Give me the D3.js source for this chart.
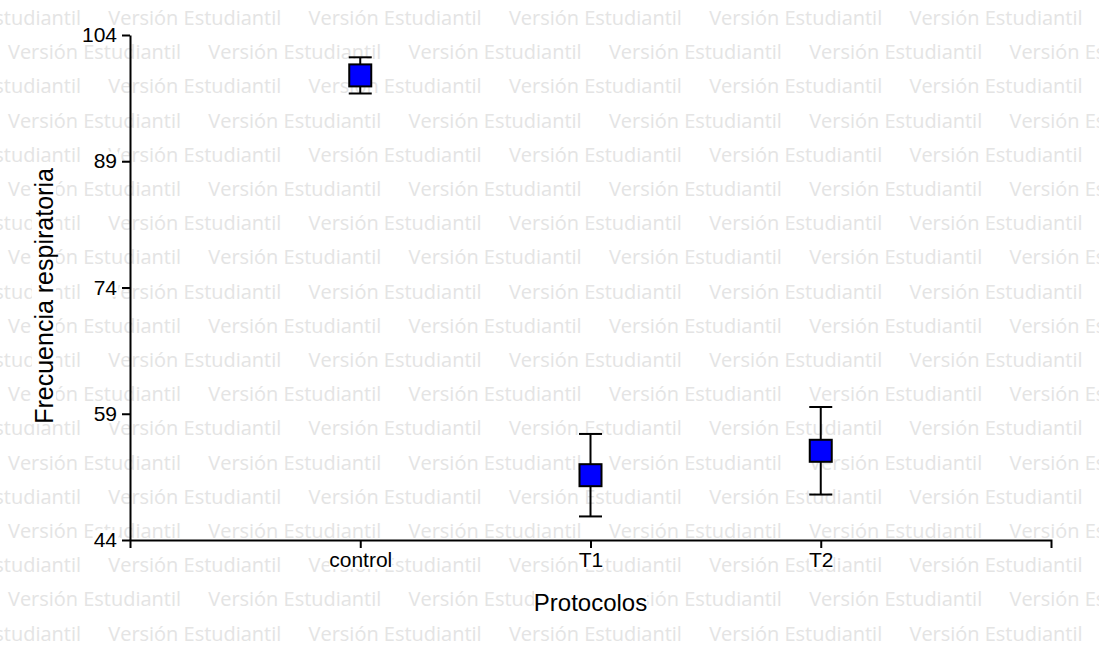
<!DOCTYPE html>
<html>
<head>
<meta charset="utf-8">
<script src="https://cdn.jsdelivr.net/npm/d3@7"></script>
<style>
  html, body { margin: 0; padding: 0; background: #fff; }
  svg { display: block; }
</style>
</head>
<body>
<div id="chart"></div>
<script>
'use strict';

// data (mean +/- error)
var categories = ["control", "T1", "T2"];
var means = [99.2, 51.7, 54.6];
var errors = [2.15, 4.9, 5.2];
var yTicks = [44, 59, 74, 89, 104];
var watermarkText = "Versión Estudiantil";

var W = 1099, H = 645;
var svg = d3.select("#chart").append("svg")
    .attr("width", W)
    .attr("height", H);

svg.append("rect").attr("width", W).attr("height", H).attr("fill", "#fff");

// student-version watermark, rows shifted every other line
var wm = svg.append("g").attr("class", "watermark");
for (var r = 0; r < 20; r++) {
    var startX = (r % 2 === 0) ? -92 : 8;
    for (var c = 0; c < 7; c++) {
        wm.append("text")
            .attr("x", startX + c * 200.3)
            .attr("y", 25 + r * 34.2)
            .attr("font-family", "'Open Sans', 'Noto Sans', sans-serif")
            .attr("font-size", 19.5)
            .attr("textLength", 173)
            .attr("lengthAdjust", "spacingAndGlyphs")
            .attr("fill", "#e4e4e4")
            .text(watermarkText);
    }
}

var pLeft = 130, pRight = 1051, pTop = 35, pBottom = 540;

var x = d3.scalePoint().domain(categories).range([pLeft, pRight]).padding(1);
var y = d3.scaleLinear().domain([44, 104]).range([pBottom, pTop]);

var font = "'Liberation Sans', Arial, sans-serif";

// puts a white box behind a text so the watermark does not show through it
function boxBehind(sel, pad) {
    sel.each(function() {
        var b = this.getBBox();
        var rect = document.createElementNS("http://www.w3.org/2000/svg", "rect");
        this.parentNode.insertBefore(rect, this);
        d3.select(rect)
            .attr("x", b.x - pad).attr("y", b.y + 2)
            .attr("width", b.width + 2 * pad).attr("height", b.height - 4)
            .attr("fill", "#fff");
    });
}

// y axis
var yAxis = svg.append("g")
    .attr("transform", "translate(" + pLeft + ",0)")
    .call(d3.axisLeft(y).tickValues(yTicks).tickSize(8).tickSizeOuter(0).tickPadding(5));
yAxis.selectAll("text").attr("font-family", font).attr("font-size", 21).attr("fill", "#000");
boxBehind(yAxis.selectAll("text"), 1);

// x axis
var xAxis = svg.append("g")
    .attr("transform", "translate(0," + pBottom + ")")
    .call(d3.axisBottom(x).tickSize(8).tickSizeOuter(8).tickPadding(0));
xAxis.selectAll("text").attr("font-family", font).attr("font-size", 21).attr("fill", "#000").attr("dy", "0.9em");
boxBehind(xAxis.selectAll("text"), 0);

svg.selectAll(".domain, .tick line").attr("stroke", "#000").attr("stroke-width", 2);

// axis titles
var xt = svg.append("g");
xt.append("text")
    .attr("x", x("T1"))
    .attr("y", 611)
    .attr("text-anchor", "middle")
    .attr("font-family", font)
    .attr("font-size", 24)
    .text("Protocolos");
boxBehind(xt.selectAll("text"), 0);

var yt = svg.append("g");
yt.append("text")
    .attr("transform", "translate(53,296) rotate(-90)")
    .attr("text-anchor", "middle")
    .attr("font-family", font)
    .attr("font-size", 25)
    .text("Frecuencia respiratoria");
var ytb = yt.node().getBBox();
yt.insert("rect", "text")
    .attr("x", ytb.x + 2).attr("y", ytb.y)
    .attr("width", ytb.width - 4).attr("height", ytb.height)
    .attr("fill", "#fff");

// error bars
var capW = 23, sq = 22;
var bars = svg.append("g").selectAll("g")
    .data(categories)
    .enter().append("g");

bars.append("line")
    .attr("x1", function(d) { return x(d); })
    .attr("x2", function(d) { return x(d); })
    .attr("y1", function(d, i) { return y(means[i] + errors[i]); })
    .attr("y2", function(d, i) { return y(means[i] - errors[i]); })
    .attr("stroke", "#000").attr("stroke-width", 2);
bars.append("line")
    .attr("x1", function(d) { return x(d) - capW / 2; })
    .attr("x2", function(d) { return x(d) + capW / 2; })
    .attr("y1", function(d, i) { return y(means[i] + errors[i]); })
    .attr("y2", function(d, i) { return y(means[i] + errors[i]); })
    .attr("stroke", "#000").attr("stroke-width", 2);
bars.append("line")
    .attr("x1", function(d) { return x(d) - capW / 2; })
    .attr("x2", function(d) { return x(d) + capW / 2; })
    .attr("y1", function(d, i) { return y(means[i] - errors[i]); })
    .attr("y2", function(d, i) { return y(means[i] - errors[i]); })
    .attr("stroke", "#000").attr("stroke-width", 2);

// square markers
bars.append("rect")
    .attr("x", function(d) { return x(d) - sq / 2; })
    .attr("y", function(d, i) { return y(means[i]) - sq / 2; })
    .attr("width", sq)
    .attr("height", sq)
    .attr("fill", "#0000ff")
    .attr("stroke", "#000")
    .attr("stroke-width", 2);
</script>
</body>
</html>
